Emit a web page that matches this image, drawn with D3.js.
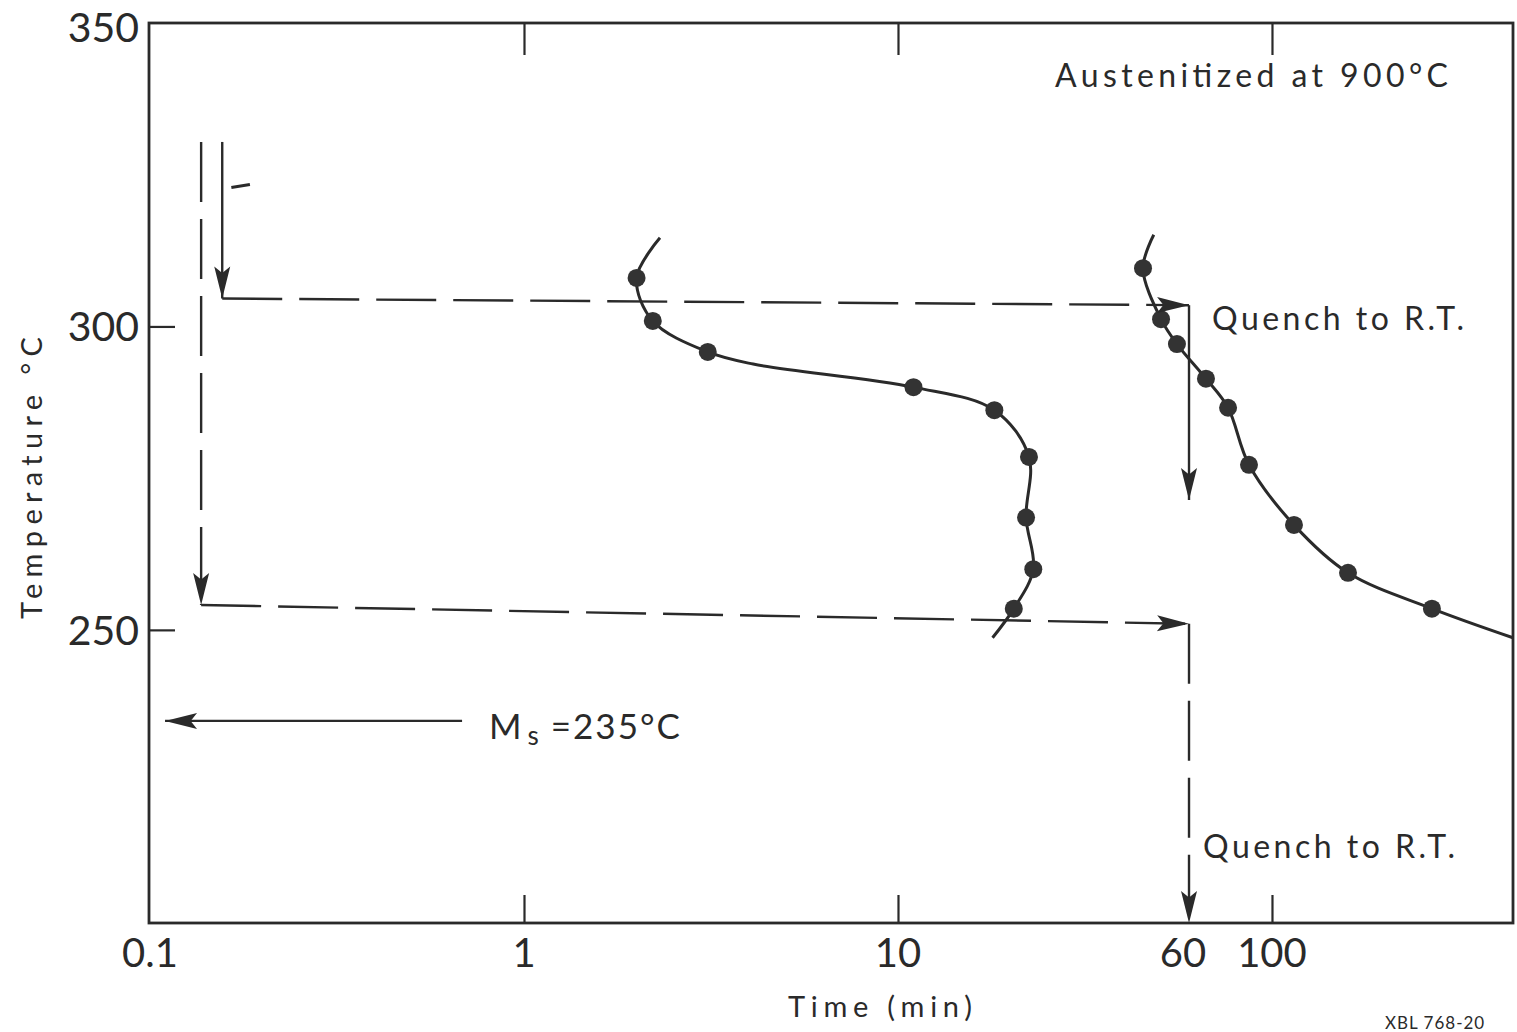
<!DOCTYPE html>
<html>
<head>
<meta charset="utf-8">
<script src="https://cdn.jsdelivr.net/npm/d3@7"></script>
<style>
  body { margin: 0; background: #fff; }
  svg { display: block; }
  text { font-family: Lato, "Open Sans", sans-serif; fill: #2a2a2a; }
</style>
</head>
<body>
<svg id="chart" width="1517" height="1032"></svg>
<script>
// time (min) vs temperature (C)
var curveA = [[2.31,314.6],[2.00,308.0],[2.21,300.9],[3.10,295.8],[4.1,293.8],[11.0,290.0],[18.1,286.2],[22.4,278.5],[22.0,268.5],[23.0,260.0],[20.4,253.5],[17.9,248.7]]
var pointsA = [[2.00,308.0],[2.21,300.9],[3.10,295.8],[11.0,290.0],[18.1,286.2],[22.4,278.5],[22.0,268.5],[23.0,260.0],[20.4,253.5]]

var curveB = [[48.3,315.1],[45.2,309.6],[50.5,301.2],[55.7,297.1],[66.6,291.4],[76.3,286.6],[86.8,277.2],[114.5,267.3],[159.7,259.4],[267.7,253.5],[441,248.7]]
var pointsB = [[45.2,309.6],[50.5,301.2],[55.7,297.1],[66.6,291.4],[76.3,286.6],[86.8,277.2],[114.5,267.3],[159.7,259.4],[267.7,253.5]]

var xTickMarks = [1, 10, 100]
var xTickLabels = [[0.1,"0.1"],[1,"1"],[10,"10"],[60,"60"],[100,"100"]]
var yTickValues = [350, 300, 250]

var quenchTime = 60
var msTemp = 235

// heat treatment paths: [from, to, dashed]
var paths = [
  [[0.156,330.4],[0.156,304.6],false],
  [[0.137,330.4],[0.137,254.1],true],
  [[0.156,304.6],[quenchTime,303.5],true],
  [[quenchTime,303.5],[quenchTime,271.4],false],
  [[0.137,254.1],[quenchTime,251.0],true],
  [[quenchTime,251.0],[quenchTime,201.7],true],
  [[0.683,msTemp],[0.1097,msTemp],false]
]

var svg = d3.select("#chart")

var x = d3.scaleLog().domain([0.1, 441]).range([150, 1513])
var y = d3.scaleLinear().domain([201.7, 350]).range([923, 23])

var ink = "#2a2a2a"

// frame
svg.append("rect")
  .attr("x", 149).attr("y", y(350))
  .attr("width", 1513 - 149).attr("height", y(201.7) - y(350))
  .attr("fill", "none").attr("stroke", ink).attr("stroke-width", 2.8)

// inward ticks
var gb = svg.append("g").attr("transform", "translate(0," + y(201.7) + ")")
  .call(d3.axisBottom(x).tickValues(xTickMarks).tickSize(-28).tickFormat(""))
var gt = svg.append("g").attr("transform", "translate(0," + y(350) + ")")
  .call(d3.axisTop(x).tickValues(xTickMarks).tickSize(-32).tickFormat(""))
var gl = svg.append("g").attr("transform", "translate(149,0)")
  .call(d3.axisLeft(y).tickValues([300, 250]).tickSize(-26).tickFormat(""))
svg.selectAll(".domain").remove()
svg.selectAll(".tick line").attr("stroke", ink).attr("stroke-width", 2.2)

// tick labels
svg.selectAll(".xlab").data(xTickLabels).enter().append("text")
  .attr("class", "xlab")
  .attr("x", function(d){ return x(d[0]) - (d[0] == 60 ? 6 : 0) })
  .attr("y", 967)
  .attr("text-anchor", "middle")
  .style("font-size", "40px")
  .text(function(d){ return d[1] })

svg.selectAll(".ylab").data(yTickValues).enter().append("text")
  .attr("class", "ylab")
  .attr("x", 139)
  .attr("y", function(d){ return y(d) + (d == 350 ? 19 : 15) })
  .attr("text-anchor", "end")
  .style("font-size", "41px")
  .text(function(d){ return d })

// axis titles
svg.append("text")
  .attr("x", 880).attr("y", 1017)
  .attr("text-anchor", "middle")
  .style("font-size", "29px")
  .attr("textLength", 184).attr("lengthAdjust", "spacing")
  .text("Time (min)")

svg.append("text")
  .attr("transform", "translate(42,478) rotate(-90)")
  .attr("text-anchor", "middle")
  .style("font-size", "29px")
  .attr("textLength", 282).attr("lengthAdjust", "spacing")
  .text("Temperature °C")

// curves
var line = d3.line()
  .x(function(d){ return x(d[0]) })
  .y(function(d){ return y(d[1]) })
  .curve(d3.curveCatmullRom.alpha(0.5))

;[curveA, curveB].forEach(function(c){
  svg.append("path").datum(c)
    .attr("d", line)
    .attr("fill", "none").attr("stroke", ink).attr("stroke-width", 3)
})

svg.selectAll(".pt").data(pointsA.concat(pointsB)).enter().append("circle")
  .attr("class", "pt")
  .attr("cx", function(d){ return x(d[0]) })
  .attr("cy", function(d){ return y(d[1]) })
  .attr("r", 9)
  .attr("fill", "#333")

// arrows
function arrowHead(p0, p1){
  var dx = p1[0] - p0[0], dy = p1[1] - p0[1]
  var len = Math.sqrt(dx*dx + dy*dy)
  var ux = dx/len, uy = dy/len
  var L = 32, W = 8
  var bx = p1[0] - ux*L, by = p1[1] - uy*L
  var mx = p1[0] - ux*L*0.8, my = p1[1] - uy*L*0.8
  return "M" + p1[0] + "," + p1[1] +
    "L" + (bx - uy*W) + "," + (by + ux*W) +
    "L" + mx + "," + my +
    "L" + (bx + uy*W) + "," + (by - ux*W) + "Z"
}

paths.forEach(function(p){
  var a = [x(p[0][0]), y(p[0][1])]
  var b = [x(p[1][0]), y(p[1][1])]
  svg.append("line")
    .attr("x1", a[0]).attr("y1", a[1]).attr("x2", b[0]).attr("y2", b[1])
    .attr("stroke", ink).attr("stroke-width", 2.4)
    .attr("stroke-dasharray", p[2] ? "60,17" : null)
  svg.append("path").attr("d", arrowHead(a, b)).attr("fill", ink)
})

// stray mark next to the first arrow
svg.append("line")
  .attr("x1", x(0.165)).attr("y1", y(322.9))
  .attr("x2", x(0.185)).attr("y2", y(323.4))
  .attr("stroke", ink).attr("stroke-width", 3)

// annotations
svg.append("text")
  .attr("x", 1055).attr("y", 87)
  .style("font-size", "32px")
  .attr("textLength", 393).attr("lengthAdjust", "spacing")
  .text("Austenitized at 900°C")

svg.append("text")
  .attr("x", 1212).attr("y", 330)
  .style("font-size", "32px")
  .attr("textLength", 252).attr("lengthAdjust", "spacing")
  .text("Quench to R.T.")

svg.append("text")
  .attr("x", 1203).attr("y", 858)
  .style("font-size", "32px")
  .attr("textLength", 252).attr("lengthAdjust", "spacing")
  .text("Quench to R.T.")

var ms = svg.append("text")
  .attr("x", 489).attr("y", 739)
  .style("font-size", "35px")
ms.append("tspan").text("M")
ms.append("tspan").attr("dx", 6).attr("dy", 6).style("font-size", "26px").text("s")
ms.append("tspan").attr("dx", 12).attr("dy", -6).style("letter-spacing", "2px").text("=235°C")

svg.append("text")
  .attr("x", 1385).attr("y", 1029)
  .style("font-size", "17px")
  .style("letter-spacing", "1px")
  .text("XBL 768-20")
</script>
</body>
</html>
